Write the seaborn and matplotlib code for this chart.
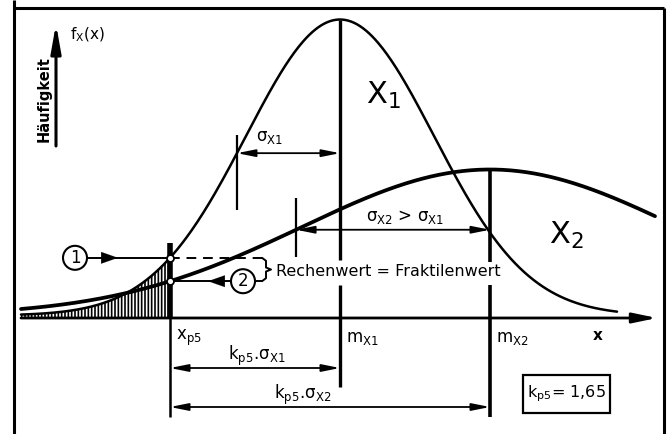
import numpy as np
import pandas as pd
import matplotlib
matplotlib.use("Agg")
import matplotlib.pyplot as plt
import seaborn as sns
from matplotlib.patches import Circle, Rectangle

# Two frequency distributions with the same 5 % fractile
curve_names = ["X1", "X2"]
curve_means = [340, 490]        # m_X1, m_X2
curve_spread = [94, 188]        # width of the drawn bell curves
curve_peaks = [296, 146]        # peak heights f_X(m) above the tail level
curve_start = [21, 21]
curve_end = [617, 655]
tail_level = 2.5
k_p5 = 1.65
x_p5 = 170

sns.set_theme(style="white")
plt.rcParams["font.family"] = ["DejaVu Sans"]
plt.rcParams["text.color"] = "black"
plt.rcParams["mathtext.default"] = "regular"
plt.rcParams["hatch.linewidth"] = 1.2


def dens(i, x):
    return tail_level + curve_peaks[i] * np.exp(
        -0.5 * ((x - curve_means[i]) / curve_spread[i]) ** 2)


# density curves
frames = []
for i, (name, a, b) in enumerate(zip(curve_names, curve_start, curve_end)):
    x = np.linspace(a, b, 400)
    frames.append(pd.DataFrame({"x": x, "f": dens(i, x), "curve": name}))
df = pd.concat(frames, ignore_index=True)

sigma_dim = [(m - x_p5) / k_p5 for m in curve_means]

fig = plt.figure(figsize=(6.69, 4.34), dpi=100)
ax = fig.add_axes([0, 0, 1, 1])
ax.set_xlim(0, 669)
ax.set_ylim(-116, 318)
ax.axis("off")

sns.lineplot(data=df, x="x", y="f", hue="curve", size="curve",
             sizes={"X1": 1.8, "X2": 2.7}, palette=["black", "black"],
             estimator=None, legend=False, ax=ax, zorder=3)

# hatched lower tail of X1
xt = np.linspace(curve_start[0], x_p5, 200)
ax.fill_between(xt, 0, dens(0, xt), facecolor="none", edgecolor="black",
                hatch="|||||", linewidth=0, zorder=2)

k = dict(color="black", solid_capstyle="butt")

# frame
ax.plot([14, 14], [318, -116], lw=2.2, **k)
ax.plot([14, 664], [310, 310], lw=2.2, **k)
ax.plot([664, 664], [310, -116], lw=2.2, **k)

# x axis
ax.annotate("", xy=(657, 0), xytext=(21, 0),
            arrowprops=dict(arrowstyle="-|>,head_length=1.2,head_width=0.25",
                            lw=2.0, color="black", shrinkA=0, shrinkB=0))
# y axis arrow
ax.annotate("", xy=(56, 294), xytext=(56, 172),
            arrowprops=dict(arrowstyle="-|>,head_length=1.4,head_width=0.25",
                            lw=2.2, color="black", shrinkA=0, shrinkB=0))
ax.text(44, 219, "Häufigkeit", rotation=90, ha="center", va="center",
        fontsize=10.5, fontweight="bold")
ax.text(70, 283, "$f_X(x)$", ha="left", va="center", fontsize=11)

# mean lines and fractile line
m1, m2 = curve_means
ax.plot([m1, m1], [dens(0, m1), 58], lw=2.4, **k)
ax.plot([m1, m1], [33, -69], lw=2.4, **k)
ax.plot([m2, m2], [dens(1, m2), 56], lw=2.6, **k)
ax.plot([m2, m2], [33, -99], lw=2.6, **k)
ax.plot([x_p5, x_p5], [75, 0], lw=4.0, **k)
ax.plot([x_p5, x_p5], [0, -99], lw=1.8, **k)

# sigma dimension ticks and arrows
dim = dict(arrowstyle="<|-|>,head_length=0.9,head_width=0.18", lw=1.3,
           color="black", shrinkA=0, shrinkB=0)
t1 = m1 - sigma_dim[0]
t2 = m2 - sigma_dim[1]
ax.plot([t1, t1], [183, 108], lw=1.6, **k)
ax.plot([t2, t2], [120, 61], lw=1.6, **k)
y1 = dens(0, t1)
y2 = dens(1, t2)
ax.annotate("", xy=(t1, y1), xytext=(m1, y1), arrowprops=dim)
ax.annotate("", xy=(t2, y2), xytext=(m2, y2), arrowprops=dim)
ax.text(270, y1 + 16, "σ$_{X1}$", ha="center", va="center", fontsize=12)
ax.text(405, y2 + 13, "σ$_{X2}$ > σ$_{X1}$", ha="center", va="center", fontsize=12)

# k_p5 * sigma dimensions below the axis
ax.annotate("", xy=(x_p5, -50), xytext=(m1, -50), arrowprops=dim)
ax.annotate("", xy=(x_p5, -89), xytext=(m2, -89), arrowprops=dim)
ax.text(257, -38, "$k_{p5}$.σ$_{X1}$", ha="center", va="center", fontsize=12)
ax.text(303, -77, "$k_{p5}$.σ$_{X2}$", ha="center", va="center", fontsize=12)

# axis labels
ax.text(176, -20, "$x_{p5}$", ha="left", va="center", fontsize=12)
ax.text(346, -20, "$m_{X1}$", ha="left", va="center", fontsize=12)
ax.text(496, -20, "$m_{X2}$", ha="left", va="center", fontsize=12)
ax.text(598, -18, "x", ha="center", va="center", fontsize=11, fontweight="bold")

# curve names
ax.text(383, 223, "$X_1$", ha="center", va="center", fontsize=22)
ax.text(566, 83, "$X_2$", ha="center", va="center", fontsize=22)

# fractile values on both curves
f1 = dens(0, x_p5)
f2 = dens(1, x_p5)
ax.plot([x_p5 - 83, x_p5], [f1, f1], lw=1.4, **k)
ax.plot([x_p5, 262], [f1, f1], lw=1.4, color="black", linestyle=(0, (5, 3.5)))
ax.plot([x_p5, 231], [f2, f2], lw=1.4, **k)
ax.plot([255, 262], [f2, f2], lw=1.4, **k)
ax.annotate("", xy=(118, f1), xytext=(100, f1),
            arrowprops=dict(arrowstyle="-|>,head_length=1.0,head_width=0.35",
                            lw=0.1, color="black", shrinkA=0, shrinkB=0))
ax.annotate("", xy=(208, f2), xytext=(226, f2),
            arrowprops=dict(arrowstyle="-|>,head_length=1.0,head_width=0.35",
                            lw=0.1, color="black", shrinkA=0, shrinkB=0))
ax.plot([x_p5, x_p5], [f1, f2], "o", ms=5, mfc="white", mec="black",
        mew=1.3, zorder=6)

for cx, cy, lab in [(75, f1, "1"), (243, f2, "2")]:
    ax.add_patch(Circle((cx, cy), 12, fill=False, lw=1.5, ec="black", zorder=5))
    ax.text(cx, cy, lab, ha="center", va="center", fontsize=12)

# curly brace joining both fractile values
mid = (f1 + f2) / 2
bx = [262, 266, 266, 271, 266, 266, 262]
by = [f1, f1 - 3, mid + 2, mid, mid - 2, f2 + 3, f2]
ax.plot(bx, by, lw=1.4, color="black", solid_joinstyle="round")
ax.text(276, 46, "Rechenwert = Fraktilenwert", ha="left", va="center",
        fontsize=11.5)

# k_p5 box
ax.add_patch(Rectangle((523, -95), 87, 38, fill=False, lw=1.6, ec="black"))
ax.text(566, -76, f"$k_{{p5}}$= {k_p5:.2f}".replace(".", ","), ha="center",
        va="center", fontsize=11.5)

fig.savefig("out.png", dpi=100)
